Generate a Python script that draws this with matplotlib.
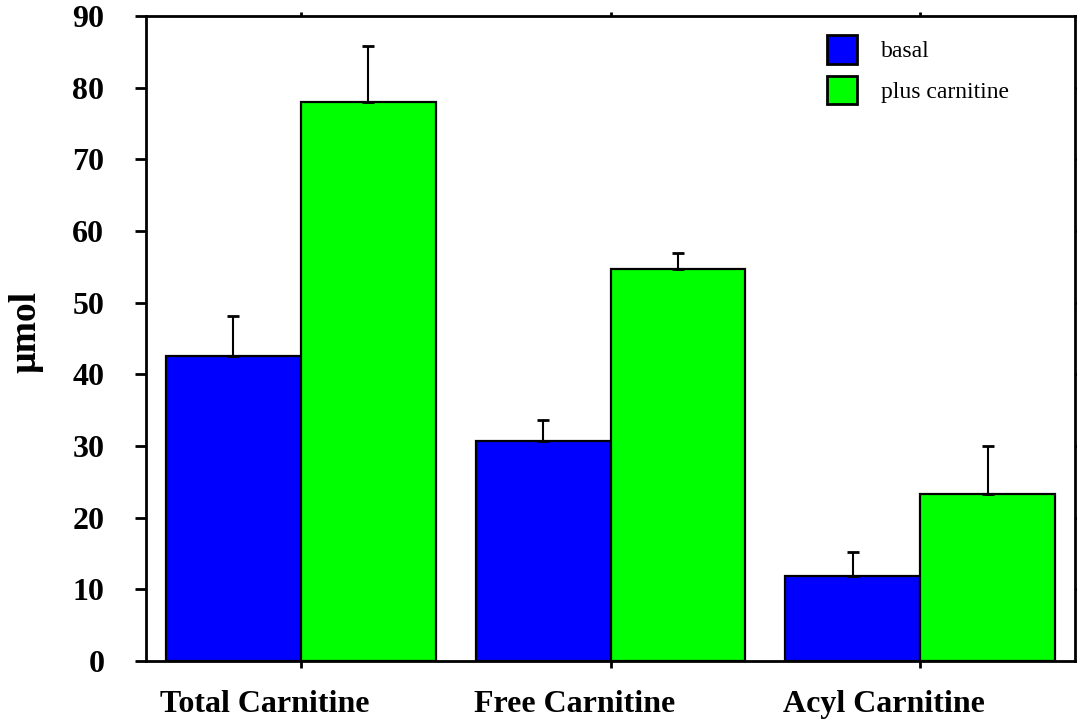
import numpy as np
import matplotlib
matplotlib.use("Agg")
import matplotlib.pyplot as plt
from matplotlib.transforms import ScaledTranslation

plt.rcParams['font.family'] = ['Liberation Serif', 'DejaVu Serif']

categories = ['Total Carnitine', 'Free Carnitine', 'Acyl Carnitine']
basal = [42.6, 30.7, 11.9]
basal_err = [5.5, 2.9, 3.3]
plus = [78.0, 54.7, 23.3]
plus_err = [7.8, 2.2, 6.7]
series_labels = ['basal', 'plus carnitine']

fig = plt.figure(figsize=(10.77, 7.19), dpi=100)
ax = fig.add_axes([146 / 1077, 1 - 661 / 719, (1075 - 146) / 1077, (661 - 16) / 719])

x = np.arange(len(categories))
w = 0.435
err_kw = dict(ecolor='black', elinewidth=1.5, capsize=4, capthick=2)
ax.bar(x - w / 2, basal, w, color='#0000ff', edgecolor='black', linewidth=1.6,
       yerr=[np.zeros(3), basal_err], error_kw=err_kw, label=series_labels[0], zorder=2)
ax.bar(x + w / 2, plus, w, color='#00ff00', edgecolor='black', linewidth=1.6,
       yerr=[np.zeros(3), plus_err], error_kw=err_kw, label=series_labels[1], zorder=2)

ax.set_xlim(-0.5, 2.5)
ax.set_ylim(0, 90)
ax.set_yticks(np.arange(0, 91, 10))
ax.set_xticks(x)
ax.set_xticklabels(categories, fontsize=23, fontweight='bold')
ax.tick_params(axis='y', labelsize=23, length=8, width=2, pad=22, direction='out', right=True)
for lab in ax.get_yticklabels():
    lab.set_fontweight('bold')
ax.tick_params(axis='x', length=5, width=2, pad=16, direction='out', top=True)
# short marks on the top and right spines
for t in ax.yaxis.get_major_ticks() + ax.xaxis.get_major_ticks():
    t.tick2line.set_markersize(3)

# shift category labels slightly left of group centers
shift = ScaledTranslation(-36 / 100, 0, fig.dpi_scale_trans)
for lab in ax.get_xticklabels():
    lab.set_transform(lab.get_transform() + shift)

for s in ax.spines.values():
    s.set_linewidth(2)

ax.set_ylabel('µmol', fontsize=27, fontweight='bold')
ax.yaxis.set_label_coords(-0.111, 0.51)

leg = ax.legend(loc='upper left', bbox_to_anchor=(827 / 1077, 1 - 35 / 719),
                bbox_transform=fig.transFigure, frameon=False, fontsize=17,
                handlelength=1.27, handleheight=1.5, handletextpad=1.0,
                labelspacing=0.5, borderpad=0, borderaxespad=0)
for p in leg.get_patches():
    p.set_linewidth(2)

fig.savefig('out.png', dpi=100)
